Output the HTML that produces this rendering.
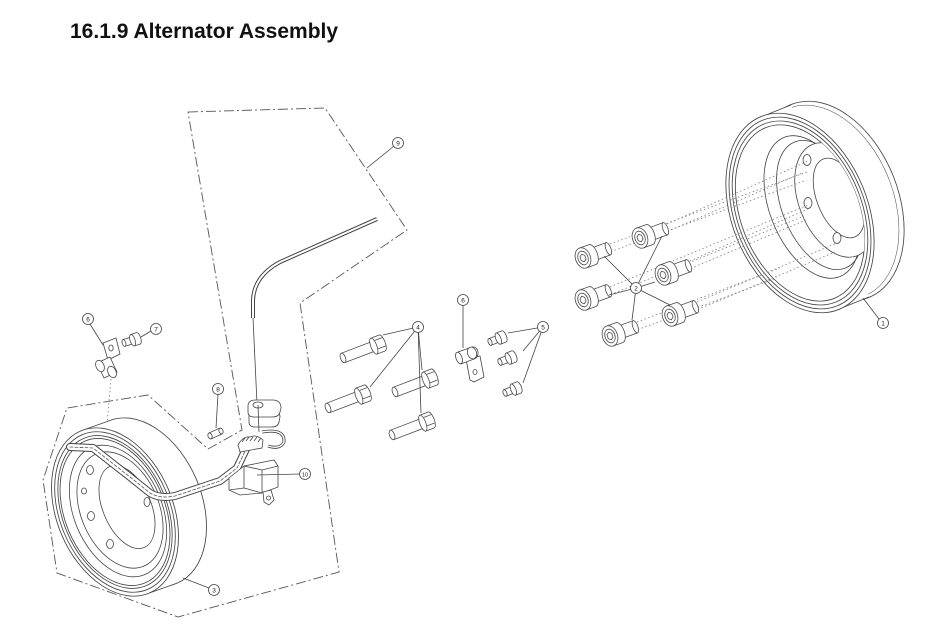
<!DOCTYPE html>
<html><head><meta charset="utf-8"><style>
html,body{margin:0;padding:0;background:#fff;}
svg{display:block;}
.t{font-family:"Liberation Sans",Arial,sans-serif;}
</style></head><body>
<svg width="947" height="630" viewBox="0 0 947 630" xmlns="http://www.w3.org/2000/svg">
<defs>
  <clipPath id="dclip"><ellipse cx="800" cy="213" rx="59" ry="92" transform="rotate(-22 800 213)"/></clipPath>
  <clipPath id="sclip"><ellipse cx="115" cy="512" rx="50" ry="77" transform="rotate(-23 115 512)"/></clipPath>
  <g id="cs" stroke="#4a4a4a" stroke-width="0.8" fill="#fff">
    <path d="M9,-6.5 L27,-6.5 L27,6.5 L9,6.5 Z"/>
    <ellipse cx="27" cy="0" rx="2.5" ry="6.5"/>
    <path d="M0,-10.5 L10,-10.5 A5,10.5 0 0 1 10,10.5 L0,10.5 Z"/>
    <ellipse cx="0" cy="0" rx="7.5" ry="10.5"/>
    <ellipse cx="0" cy="0" rx="5" ry="7" fill="none"/>
    <polygon points="0,-4 2.5,-2 2.5,2 0,4 -2.5,2 -2.5,-2" fill="none"/>
  </g>
  <g id="hb" stroke="#4a4a4a" stroke-width="0.8" fill="#fff">
    <path d="M0,-5 L34,-5 L34,5 L0,5 Z"/>
    <ellipse cx="0" cy="0" rx="2.5" ry="5"/>
    <path d="M33,-8.5 L42,-8.5 A3,8.5 0 0 1 42,8.5 L33,8.5 Z"/>
    <ellipse cx="33" cy="0" rx="3" ry="8.5"/>
    <line x1="36" y1="-5" x2="44" y2="-5"/>
    <line x1="36" y1="4" x2="44" y2="4"/>
  </g>
  <g id="ss" stroke="#4a4a4a" stroke-width="0.8" fill="#fff">
    <path d="M0,-3.5 L10,-3.5 L10,3.5 L0,3.5 Z"/>
    <ellipse cx="0" cy="0" rx="1.8" ry="3.5"/>
    <path d="M9,-6 L15,-6 A2.5,6 0 0 1 15,6 L9,6 Z"/>
    <ellipse cx="9" cy="0" rx="2.5" ry="6"/>
  </g>
</defs>

<rect width="947" height="630" fill="#fff"/>
<text class="t" x="70" y="38" font-size="21" font-weight="bold" fill="#111">16.1.9 Alternator Assembly</text>

<!-- dash-dot group boundary -->
<polygon points="188,112 325,108 407,230 300,303 339,572 178,617 57,573 43,480 67,408 148,395 208,449 242,430" fill="none" stroke="#555" stroke-width="0.9" stroke-dasharray="10 3 2 3"/>

<!-- ===== Drum (1) ===== -->
<g stroke="#444" stroke-width="0.85" fill="#fff">
  <ellipse cx="830" cy="201" rx="68" ry="104" transform="rotate(-22 830 201)"/>
  <ellipse cx="827" cy="202" rx="66" ry="101" transform="rotate(-22 827 202)" fill="none" stroke-width="0.5"/>
  <polygon points="761,117 791,105 869,297 839,309" stroke="none"/>
  <line x1="761" y1="117" x2="791" y2="105"/>
  <line x1="839" y1="309" x2="869" y2="297"/>
  <ellipse cx="800" cy="213" rx="68" ry="104" transform="rotate(-22 800 213)"/>
  <ellipse cx="800" cy="213" rx="65" ry="100" transform="rotate(-22 800 213)" fill="none"/>
  <ellipse cx="800" cy="213" rx="62" ry="96" transform="rotate(-22 800 213)" fill="none"/>
  <ellipse cx="800" cy="213" rx="59" ry="92" transform="rotate(-22 800 213)" fill="none"/>
  <g clip-path="url(#dclip)" fill="none" stroke-width="0.8">
    <ellipse cx="812" cy="207" rx="42" ry="75" transform="rotate(-22 812 207)"/>
    <ellipse cx="820" cy="205" rx="38" ry="68" transform="rotate(-22 820 205)"/>
    <ellipse cx="835" cy="200" rx="36" ry="60" transform="rotate(-22 835 200)" fill="#fff"/>
    <ellipse cx="839" cy="198" rx="22" ry="42" transform="rotate(-22 839 198)"/>
    <ellipse cx="807" cy="160" rx="4" ry="5.5" fill="#fff"/>
    <ellipse cx="808" cy="203" rx="4" ry="5.5" fill="#fff"/>
    <ellipse cx="837" cy="238" rx="4" ry="5.5" fill="#fff"/>
    <ellipse cx="827" cy="130" rx="3.5" ry="4.5" fill="#fff"/>
  </g>
</g>
<line x1="863" y1="298" x2="879" y2="319" stroke="#444" stroke-width="0.8"/>

<!-- dotted alignment lines bolts -> drum -->
<g stroke="#888" stroke-width="0.9" stroke-dasharray="1.5 2.5" fill="none">
  <line x1="610" y1="244" x2="807" y2="172"/><line x1="607" y1="253" x2="804" y2="181"/>
  <line x1="667" y1="224" x2="808" y2="161"/><line x1="664" y1="233" x2="802" y2="173"/>
  <line x1="690" y1="261" x2="808" y2="209"/><line x1="687" y1="270" x2="806" y2="220"/>
  <line x1="610" y1="287" x2="808" y2="205"/><line x1="607" y1="296" x2="804" y2="216"/>
  <line x1="697" y1="302" x2="837" y2="243"/><line x1="694" y1="311" x2="835" y2="252"/>
  <line x1="637" y1="322" x2="780" y2="268"/><line x1="634" y1="331" x2="777" y2="278"/>
</g>

<!-- ===== Cap screws (2) ===== -->
<use href="#cs" transform="translate(583,258) rotate(-20)"/>
<use href="#cs" transform="translate(640,238) rotate(-20)"/>
<use href="#cs" transform="translate(663,275) rotate(-20)"/>
<use href="#cs" transform="translate(583,300) rotate(-20)"/>
<use href="#cs" transform="translate(670,316) rotate(-20)"/>
<use href="#cs" transform="translate(610,336) rotate(-20)"/>
<g stroke="#444" stroke-width="0.8">
  <line x1="636" y1="288" x2="604" y2="256"/>
  <line x1="636" y1="288" x2="662" y2="236"/>
  <line x1="636" y1="288" x2="655" y2="282"/>
  <line x1="636" y1="288" x2="609" y2="295"/>
  <line x1="636" y1="288" x2="670" y2="305"/>
  <line x1="636" y1="288" x2="632" y2="320"/>
</g>

<!-- ===== Hex bolts (4) ===== -->
<use href="#hb" transform="translate(343,358) rotate(-21)"/>
<use href="#hb" transform="translate(328,408) rotate(-21)"/>
<use href="#hb" transform="translate(395,392) rotate(-21)"/>
<use href="#hb" transform="translate(392,435) rotate(-21)"/>
<g stroke="#444" stroke-width="0.8">
  <line x1="418" y1="327" x2="383" y2="335"/>
  <line x1="418" y1="327" x2="370" y2="387"/>
  <line x1="418" y1="327" x2="422" y2="370"/>
  <line x1="418" y1="327" x2="421" y2="413"/>
</g>

<!-- ===== middle clip (6) ===== -->
<g stroke="#444" stroke-width="0.8" fill="#fff">
  <path d="M466,359 L480,356 L484,377 L474,382 L470,380 Z"/>
  <path d="M458,352 L472,347 A5,6 0 0 1 474,359 L461,364 Z"/>
  <ellipse cx="472" cy="353" rx="4.5" ry="6" transform="rotate(-20 472 353)"/>
  <ellipse cx="459" cy="358" rx="3" ry="6" transform="rotate(-20 459 358)"/>
  <ellipse cx="475" cy="372" rx="2" ry="2.5"/>
</g>
<line x1="463" y1="305" x2="463" y2="348" stroke="#444" stroke-width="0.8"/>

<!-- ===== small screws (5) ===== -->
<use href="#ss" transform="translate(490,342) rotate(-22)"/>
<use href="#ss" transform="translate(500,362) rotate(-22)"/>
<use href="#ss" transform="translate(505,393) rotate(-22)"/>
<g stroke="#444" stroke-width="0.8">
  <line x1="543" y1="327" x2="508" y2="333"/>
  <line x1="543" y1="327" x2="523" y2="351"/>
  <line x1="543" y1="327" x2="523" y2="383"/>
</g>

<!-- ===== Left clip (6), screw (7) ===== -->
<g stroke="#444" stroke-width="0.8" fill="#fff">
  <path d="M103,343 L116,338 L120,354 L108,360 Z"/>
  <ellipse cx="111" cy="348" rx="2.2" ry="3"/>
  <path d="M97,363 L110,357 L117,372 L104,378 Z"/>
  <ellipse cx="112" cy="372" rx="4" ry="6" transform="rotate(-25 112 372)"/>
  <ellipse cx="100" cy="366" rx="4" ry="6" transform="rotate(-25 100 366)"/>
</g>
<use href="#ss" transform="translate(124,343) rotate(-18)"/>
<g stroke="#444" stroke-width="0.8">
  <line x1="90" y1="324" x2="103" y2="345"/>
  <line x1="151" y1="331" x2="141" y2="337"/>
</g>
<line x1="111" y1="379" x2="107" y2="425" stroke="#888" stroke-width="0.9" stroke-dasharray="1.5 2.5"/>

<!-- ===== Stator (3) ===== -->
<g stroke="#444" stroke-width="0.85" fill="#fff">
  <ellipse cx="143" cy="502" rx="58" ry="88" transform="rotate(-23 143 502)"/>
  <polygon points="80.6,431 108.6,421 177.4,583 149.4,593" stroke="none"/>
  <line x1="80.6" y1="431" x2="108.6" y2="421"/>
  <line x1="149.4" y1="593" x2="177.4" y2="583"/>
  <ellipse cx="115" cy="512" rx="58" ry="88" transform="rotate(-23 115 512)"/>
  <ellipse cx="115" cy="512" rx="55" ry="84" transform="rotate(-23 115 512)" fill="none"/>
  <ellipse cx="115" cy="512" rx="52" ry="80" transform="rotate(-23 115 512)" fill="none"/>
  <ellipse cx="115" cy="512" rx="50" ry="77" transform="rotate(-23 115 512)" fill="none"/>
  <g clip-path="url(#sclip)" fill="none" stroke-width="0.8">
    <ellipse cx="118" cy="511" rx="44" ry="69" transform="rotate(-23 118 511)"/>
    <ellipse cx="120" cy="510" rx="39" ry="61" transform="rotate(-23 120 510)"/>
    <ellipse cx="127" cy="507" rx="24" ry="44" transform="rotate(-23 127 507)"/>
    <ellipse cx="90" cy="470" rx="3.5" ry="4.5" fill="#fff"/>
    <ellipse cx="84" cy="491" rx="2.5" ry="3" fill="#fff"/>
    <ellipse cx="91" cy="516" rx="3.5" ry="4.5" fill="#fff"/>
    <ellipse cx="110" cy="544" rx="3.5" ry="4.5" fill="#fff"/>
    <ellipse cx="147" cy="502" rx="3" ry="4.5" fill="#fff"/>
  </g>
</g>
<line x1="183" y1="578" x2="209" y2="588" stroke="#444" stroke-width="0.8"/>

<!-- pin (8) -->
<g stroke="#444" stroke-width="0.8" fill="#fff">
  <path d="M209,433 L220,428 L222,434 L211,439 Z"/>
  <ellipse cx="210" cy="436" rx="2" ry="3" transform="rotate(-22 210 436)"/>
  <ellipse cx="221" cy="431" rx="2" ry="3" transform="rotate(-22 221 431)"/>
</g>
<line x1="218" y1="394" x2="216" y2="428" stroke="#444" stroke-width="0.8"/>

<!-- cable (9) -->
<path d="M253,318 L253,300 Q254,276 280,262 L377,219" fill="none" stroke="#444" stroke-width="4"/>
<path d="M253,318 L253,300 Q254,276 280,262 L377,219" fill="none" stroke="#fff" stroke-width="2"/>
<line x1="253" y1="318" x2="258" y2="425" stroke="#444" stroke-width="0.8"/>
<line x1="394" y1="146" x2="367" y2="168" stroke="#444" stroke-width="0.8"/>

<!-- harness (10) -->
<g fill="none" stroke-linejoin="round" stroke-linecap="round">
  <path d="M70,447 L93,448 L130,477 L150,493 Q160,499 175,496 L220,481 L237,468 L247,447" stroke="#444" stroke-width="8"/>
  <path d="M70,447 L93,448 L130,477 L150,493 Q160,499 175,496 L220,481 L237,468 L247,447" stroke="#fff" stroke-width="6"/>
  <path d="M70,447 L93,448 L130,477 L150,493 Q160,499 175,496 L220,481 L237,468 L247,447" stroke="#555" stroke-width="0.8" stroke-dasharray="3 2"/>
</g>
<g stroke="#444" stroke-width="0.8" fill="#fff">
  <!-- grommet (two stacked rings) -->
  <path d="M249,416 Q249,410 256,410 L273,410 Q280,411 280,417 L279,422 Q278,427 272,427 L255,427 Q249,427 249,422 Z"/>
  <path d="M248,406 Q248,400 256,400 L274,400 Q281,401 281,408 L280,412 Q279,417 272,417 L254,417 Q248,417 248,412 Z"/>
  <ellipse cx="258" cy="405" rx="5" ry="3" fill="none"/>
  <line x1="258" y1="405" x2="259" y2="432"/>
  <!-- loop -->
  <path d="M262,432 Q285,428 284,442 Q280,450 268,446" fill="none" stroke-width="3"/>
  <path d="M262,432 Q285,428 284,442 Q280,450 268,446" fill="none" stroke="#fff" stroke-width="1.4"/>
  <!-- braid -->
  <path d="M238,445 Q243,436 250,437 Q256,434 263,440 L262,448 L240,452 Z"/>
  <path d="M242,442 l3,-4 M246,441 l3,-4 M250,441 l3,-4 M254,441 l3,-4 M258,442 l3,-4" fill="none"/>
  <!-- connector box -->
  <path d="M229,478 L244,466 L274,460 L278,466 L278,487 L262,493 L240,495 L229,490 Z"/>
  <path d="M244,466 L244,488 L262,493 M244,488 L229,490 M262,493 L262,470 L278,466 M244,466 L262,470" fill="none"/>
  <path d="M263,492 L271,490 L274,500 L269,505 L264,502 Z"/>
  <circle cx="268.5" cy="498" r="2"/>
</g>
<line x1="300" y1="474" x2="257" y2="475" stroke="#444" stroke-width="0.8"/>

<!-- balloons -->
<g class="t" font-size="6.5" text-anchor="middle" fill="#222">
  <g stroke="#444" stroke-width="0.8" fill="#fff">
    <circle cx="883" cy="323" r="5.5"/>
    <circle cx="636" cy="288" r="5.5"/>
    <circle cx="214" cy="590" r="5.5"/>
    <circle cx="418" cy="327" r="5.5"/>
    <circle cx="543" cy="327" r="5.5"/>
    <circle cx="463" cy="300" r="5.5"/>
    <circle cx="88" cy="319" r="5.5"/>
    <circle cx="156" cy="329" r="5.5"/>
    <circle cx="218" cy="389" r="5.5"/>
    <circle cx="398" cy="143" r="5.5"/>
    <circle cx="305" cy="474" r="5.5"/>
  </g>
  <text x="883" y="325.5">1</text>
  <text x="636" y="290.5">2</text>
  <text x="214" y="592.5">3</text>
  <text x="418" y="329.5">4</text>
  <text x="543" y="329.5">5</text>
  <text x="463" y="302.5">6</text>
  <text x="88" y="321.5">6</text>
  <text x="156" y="331.5">7</text>
  <text x="218" y="391.5">8</text>
  <text x="398" y="145.5">9</text>
  <text x="305" y="476.5" font-size="5.5">10</text>
</g>
</svg>
</body></html>
